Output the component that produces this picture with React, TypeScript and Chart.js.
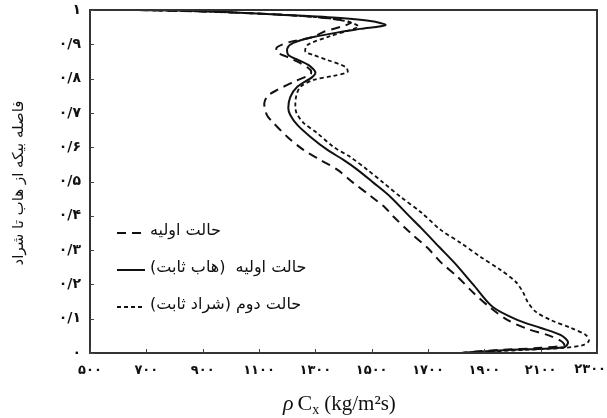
import React, { useEffect, useRef } from "react";
import { Chart, registerables } from "chart.js";

Chart.register(...registerables);

// Tick labels (Persian digits)
const xTicks = [500, 700, 900, 1100, 1300, 1500, 1700, 1900, 2100, 2300];
const xTickLabels = ["۵۰۰", "۷۰۰", "۹۰۰", "۱۱۰۰", "۱۳۰۰", "۱۵۰۰", "۱۷۰۰", "۱۹۰۰", "۲۱۰۰", "۲۳۰۰"];
const yTicks = [0, 0.1, 0.2, 0.3, 0.4, 0.5, 0.6, 0.7, 0.8, 0.9, 1];
const yTickLabels = ["۰", "۰/۱", "۰/۲", "۰/۳", "۰/۴", "۰/۵", "۰/۶", "۰/۷", "۰/۸", "۰/۹", "۱"];

const seriesNames = ["حالت اولیه", "حالت اولیه  (هاب ثابت)", "حالت دوم (شراد ثابت)"];

// Dashed: initial state
const dashedX = [671, 962, 1247, 1389, 1425, 1329, 1290, 1211, 1165, 1162, 1201, 1247, 1283, 1283, 1222, 1165, 1130, 1119, 1122, 1130, 1151, 1201, 1258, 1318, 1379, 1435, 1496, 1549, 1578, 1638, 1699, 1745, 1805, 1862, 1923, 1983, 2054, 2126, 2172, 2183, 2101, 1958, 1852, 1816];
const dashedY = [1.0, 0.994, 0.983, 0.971, 0.962, 0.936, 0.921, 0.907, 0.892, 0.878, 0.863, 0.845, 0.825, 0.813, 0.79, 0.767, 0.749, 0.729, 0.708, 0.691, 0.671, 0.63, 0.592, 0.563, 0.534, 0.496, 0.458, 0.423, 0.397, 0.35, 0.306, 0.265, 0.222, 0.175, 0.131, 0.096, 0.07, 0.052, 0.035, 0.023, 0.015, 0.009, 0.003, 0];

// Solid: initial state (fixed hub)
const solidX = [671, 891, 1211, 1389, 1496, 1549, 1460, 1389, 1293, 1222, 1201, 1204, 1240, 1275, 1300, 1290, 1236, 1211, 1204, 1211, 1236, 1283, 1343, 1400, 1450, 1507, 1567, 1630, 1676, 1740, 1795, 1860, 1930, 2019, 2101, 2172, 2197, 2183, 1983, 1862, 1816];
const solidY = [1.0, 0.997, 0.985, 0.977, 0.968, 0.956, 0.945, 0.936, 0.921, 0.904, 0.889, 0.869, 0.854, 0.84, 0.819, 0.805, 0.776, 0.746, 0.714, 0.694, 0.665, 0.63, 0.592, 0.563, 0.534, 0.496, 0.455, 0.402, 0.364, 0.309, 0.262, 0.2, 0.134, 0.096, 0.073, 0.052, 0.032, 0.017, 0.009, 0.003, 0];

// Dotted: second state (fixed shroud)
const dottedX = [671, 962, 1247, 1389, 1453, 1425, 1354, 1272, 1265, 1293, 1343, 1407, 1414, 1364, 1293, 1247, 1233, 1229, 1233, 1258, 1307, 1364, 1425, 1485, 1542, 1603, 1674, 1745, 1816, 1887, 1958, 2012, 2037, 2054, 2083, 2136, 2207, 2261, 2271, 2250, 2182, 2040, 1898, 1816];
const dottedY = [1.0, 0.994, 0.983, 0.971, 0.953, 0.942, 0.924, 0.898, 0.878, 0.869, 0.854, 0.834, 0.819, 0.808, 0.796, 0.776, 0.752, 0.723, 0.7, 0.671, 0.641, 0.601, 0.571, 0.534, 0.496, 0.455, 0.411, 0.359, 0.321, 0.28, 0.242, 0.207, 0.178, 0.149, 0.12, 0.096, 0.073, 0.052, 0.035, 0.023, 0.015, 0.009, 0.003, 0];

const toPoints = (xs: number[], ys: number[]) => xs.map((x, i) => ({ x, y: ys[i] }));

const INK = "#111";
const TICK_FONT = 'bold 13px "DejaVu Sans"';

const decorPlugin = {
  id: "decor",
  afterDraw(chart: any) {
    const { ctx, chartArea, scales } = chart;
    const { left, right, top, bottom } = chartArea;
    ctx.save();
    // frame
    ctx.strokeStyle = "#333";
    ctx.lineWidth = 2;
    ctx.strokeRect(left, top, right - left, bottom - top);
    // inner ticks
    ctx.lineWidth = 1;
    ctx.strokeStyle = "#444";
    xTicks.forEach((v) => {
      const px = Math.round(scales.x.getPixelForValue(v)) + 0.5;
      ctx.beginPath();
      ctx.moveTo(px, bottom);
      ctx.lineTo(px, bottom - 4);
      ctx.stroke();
    });
    yTicks.forEach((v) => {
      const py = Math.round(scales.y.getPixelForValue(v)) + 0.5;
      ctx.beginPath();
      ctx.moveTo(left, py);
      ctx.lineTo(left + 4, py);
      ctx.stroke();
    });

    // last x tick label, kept inside the canvas
    const lastIdx = xTicks.length - 1;
    ctx.fillStyle = INK;
    ctx.font = TICK_FONT;
    ctx.textAlign = "right";
    ctx.textBaseline = "top";
    const lastPx = scales.x.getPixelForValue(xTicks[lastIdx]);
    ctx.fillText(xTickLabels[lastIdx], Math.min(lastPx + 14, chart.width - 1), bottom + 10);

    // legend
    const rows = [233, 270, 307];
    chart.data.datasets.forEach((ds: any, i: number) => {
      const y = rows[i];
      ctx.strokeStyle = INK;
      ctx.lineWidth = ds.borderWidth;
      ctx.setLineDash(ds.borderDash || []);
      ctx.beginPath();
      ctx.moveTo(117, y);
      ctx.lineTo(145, y);
      ctx.stroke();
      ctx.setLineDash([]);
      ctx.fillStyle = INK;
      ctx.font = '16px "DejaVu Sans"';
      ctx.textBaseline = "middle";
      ctx.textAlign = "left";
      (ctx as any).direction = "rtl";
      ctx.fillText(ds.label, 150, y - 2);
      (ctx as any).direction = "ltr";
    });

    // x title: ρ C_x (kg/m²s)
    ctx.fillStyle = INK;
    ctx.textBaseline = "alphabetic";
    ctx.textAlign = "left";
    let x = 283;
    const yb = 410;
    ctx.font = 'italic 22px "Liberation Serif"';
    ctx.fillText("ρ", x, yb);
    x += ctx.measureText("ρ").width + 4;
    ctx.font = '22px "Liberation Serif"';
    ctx.fillText("C", x, yb);
    x += ctx.measureText("C").width;
    ctx.font = '14px "Liberation Serif"';
    ctx.fillText("x", x, yb + 4);
    x += ctx.measureText("x").width + 5;
    ctx.font = '21px "Liberation Serif"';
    ctx.fillText("(kg/m²s)", x, yb);

    // y title
    ctx.save();
    ctx.translate(19, 183);
    ctx.rotate(-Math.PI / 2);
    ctx.textAlign = "center";
    ctx.textBaseline = "middle";
    ctx.font = '15px "DejaVu Sans"';
    (ctx as any).direction = "rtl";
    ctx.fillText("فاصله بیکه از هاب تا شراد", 0, 0);
    ctx.restore();

    ctx.restore();
  },
};

export default function App() {
  const ref = useRef<HTMLCanvasElement | null>(null);
  useEffect(() => {
    document.body.style.margin = "0";
    const chart = new Chart(ref.current as HTMLCanvasElement, {
      type: "scatter",
      data: {
        datasets: [
          {
            label: seriesNames[0],
            data: toPoints(dashedX, dashedY),
            showLine: true,
            borderColor: INK,
            borderWidth: 2,
            borderDash: [9, 6],
            pointRadius: 0,
            tension: 0.3,
          },
          {
            label: seriesNames[1],
            data: toPoints(solidX, solidY),
            showLine: true,
            borderColor: INK,
            borderWidth: 2,
            pointRadius: 0,
            tension: 0.3,
          },
          {
            label: seriesNames[2],
            data: toPoints(dottedX, dottedY),
            showLine: true,
            borderColor: INK,
            borderWidth: 1.8,
            borderDash: [4, 3],
            pointRadius: 0,
            tension: 0.3,
          },
        ],
      },
      options: {
        animation: false,
        responsive: false,
        layout: { padding: { top: 10, right: 10, left: 0, bottom: 0 } },
        plugins: { legend: { display: false }, tooltip: { enabled: false } },
        scales: {
          x: {
            type: "linear",
            min: 500,
            max: 2300,
            afterFit: (s: any) => {
              s.height = 65;
              s.paddingLeft = 0;
              s.paddingRight = 0;
            },
            afterBuildTicks: (s: any) => {
              s.ticks = xTicks.map((v) => ({ value: v }));
            },
            grid: { display: false, drawTicks: false },
            border: { display: true, color: "#333", width: 2 },
            ticks: {
              padding: 10,
              color: INK,
              font: { family: '"DejaVu Sans"', size: 13, weight: "bold" },
              callback: (v: any) => {
                const idx = xTicks.indexOf(Number(v));
                return idx >= 0 && idx < xTicks.length - 1 ? xTickLabels[idx] : "";
              },
            },
          },
          y: {
            type: "linear",
            min: 0,
            max: 1,
            afterFit: (s: any) => {
              s.width = 90;
              s.paddingTop = 0;
              s.paddingBottom = 0;
            },
            afterBuildTicks: (s: any) => {
              s.ticks = yTicks.map((v) => ({ value: v }));
            },
            grid: { display: false, drawTicks: false },
            border: { display: true, color: "#333", width: 2 },
            ticks: {
              padding: 9,
              color: INK,
              font: { family: '"DejaVu Sans"', size: 14, weight: "bold" },
              callback: (v: any) => {
                const idx = yTicks.findIndex((t) => Math.abs(t - Number(v)) < 1e-6);
                return idx >= 0 ? yTickLabels[idx] : "";
              },
            },
          },
        },
      },
      plugins: [decorPlugin],
    });
    return () => chart.destroy();
  }, []);
  return (
    <div style={{ position: "absolute", left: 0, top: 0, width: 607, height: 418, background: "#fff" }}>
      <canvas ref={ref} width={607} height={418} style={{ width: 607, height: 418 }} />
    </div>
  );
}
